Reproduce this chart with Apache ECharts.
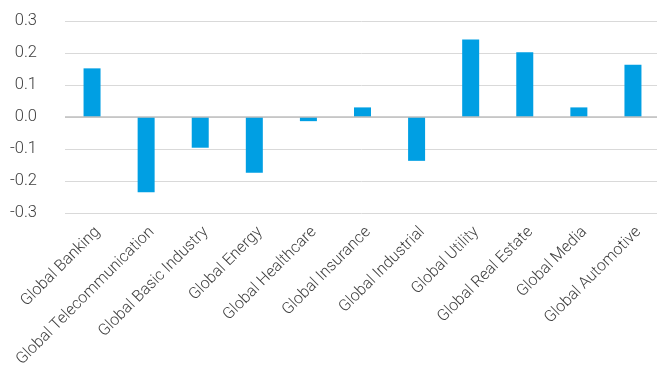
<!DOCTYPE html>
<html><head><meta charset="utf-8">
<script src="https://cdn.jsdelivr.net/npm/echarts@6/dist/echarts.min.js"></script>
<style>html,body{margin:0;padding:0;background:#fff}#c{width:657px;height:367px}</style>
</head><body><div id="c"></div>
<script>
const categories = ['Global Banking','Global Telecommunication','Global Basic Industry','Global Energy','Global Healthcare','Global Insurance','Global Industrial','Global Utility','Global Real Estate','Global Media','Global Automotive'];
const values = [0.152, -0.235, -0.096, -0.174, -0.013, 0.030, -0.137, 0.242, 0.202, 0.030, 0.163];
const yTicks = [-0.3, -0.2, -0.1, 0.0, 0.1, 0.2, 0.3];

const chart = echarts.init(document.getElementById('c'), null, {renderer:'canvas'});
chart.setOption({
  animation: false,
  grid: {left: 65, right: -3, top: 21, bottom: 154, containLabel: false, outerBoundsMode: 'none'},
  xAxis: {
    type: 'category', data: categories,
    axisLine: {show: false, onZero: false}, axisTick: {show: false},
    axisLabel: {rotate: 45, margin: 11, interval: 0, verticalAlign: 'top', fontFamily: 'Roboto', fontWeight: 300, fontSize: 16, color: '#404040'}
  },
  yAxis: {
    type: 'value', min: yTicks[0], max: yTicks[yTicks.length-1], interval: 0.1,
    axisLine: {show: false}, axisTick: {show: false},
    splitLine: {lineStyle: {color: '#d9d9d9', width: 1}},
    axisLabel: {margin: 28, fontFamily: 'Roboto', fontWeight: 300, fontSize: 16.5, color: '#404040',
      formatter: v => v.toFixed(1)}
  },
  series: [{
    type: 'bar', data: values, barWidth: 17,
    itemStyle: {color: '#009fe3'},
    markLine: {silent: true, symbol: ['none','none'], label: {show: false},
      lineStyle: {color: '#bfbfbf', width: 1.5, type: 'solid'}, data: [{yAxis: 0}]}
  }]
});
</script></body></html>
